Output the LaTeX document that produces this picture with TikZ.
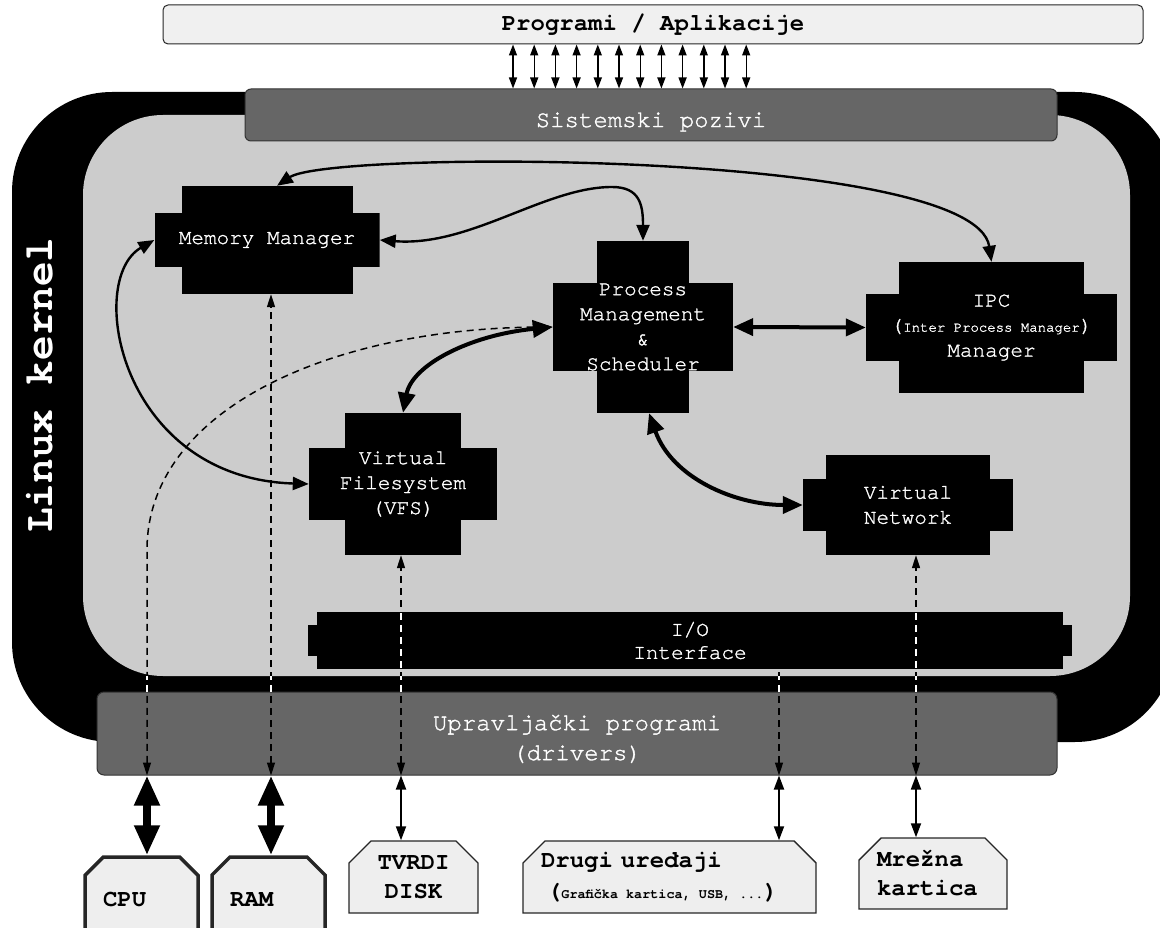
\documentclass[tikz,border=0pt]{standalone}
\usepackage{fontspec}
\setmainfont{TeX Gyre Cursor}
\newfontfamily\medfont[FakeBold=1.3]{TeX Gyre Cursor}
\usepackage{tikz}
\usetikzlibrary{arrows.meta, positioning, calc, shapes.misc}
\definecolor{kernelgray}{RGB}{204,204,204}
\definecolor{callgray}{RGB}{102,102,102}
\definecolor{devgray}{RGB}{238,238,238}
\definecolor{appgray}{RGB}{240,240,240}

\tikzset{
  kblock/.style 2 args={inner sep=0pt, fill=kernelgray, text=white, align=center,
    font=\medfont\fontsize{21}{25}\selectfont,
    path picture={
      \fill[black] ([xshift=#1]path picture bounding box.south west) rectangle ([xshift=-#1]path picture bounding box.north east);
      \fill[black] ([yshift=#2]path picture bounding box.south west) rectangle ([yshift=-#2]path picture bounding box.north east);}},
  dev/.style={chamfered rectangle, chamfered rectangle corners={north west,north east},
    chamfered rectangle xsep=11pt, chamfered rectangle ysep=11pt,
    draw=black!85, fill=devgray, line width=1.4pt, inner xsep=7pt, inner ysep=0pt,
    font=\fontsize{24}{29}\selectfont\bfseries},
  call/.style={<->, >={Triangle[length=11pt,width=8pt]}, line width=1.4pt},
  link/.style={<->, >={Triangle[length=16pt,width=13pt]}, line width=2.4pt},
  heavy/.style={<->, >={Triangle[length=20pt,width=17pt]}, line width=4pt},
  bus/.style={<->, >={Triangle[length=13pt,width=8pt]}, line width=1.5pt, dash pattern=on 7pt off 5pt},
  port/.style={<->, >={Triangle[length=14pt,width=10pt]}, line width=1.8pt},
  bigport/.style={<->, >={Triangle[length=30pt,width=24pt]}, line width=8pt}
}

\begin{document}
\begin{tikzpicture}[x=1pt, y=-1pt]
    \useasboundingbox (0,0) rectangle (1160,928);

    % Kernel body
    \fill[black, rounded corners=100pt] (12,92) rectangle (1175,742);
    \fill[kernelgray, rounded corners=80pt] (83,115) rectangle (1130,676);
    \node[rotate=90, text=white, font=\fontsize{41}{45}\selectfont\bfseries] (kern) at (40,385) {Linux kernel};

    % Applications and system calls
    \node[draw=black!85, line width=1pt, fill=appgray, rounded corners=5pt, minimum width=980pt, minimum height=39pt,
        font=\fontsize{24}{28}\selectfont\bfseries] (apps) at (653,24.5) {Programi / Aplikacije};
    \node[draw=black!80, line width=1pt, fill=callgray, rounded corners=6pt, minimum width=812pt, minimum height=52pt] (sys) at (651,115) {};
    \node[text=white, font=\medfont\fontsize{24}{28}\selectfont] (systext) at (651,122) {Sistemski pozivi};
    \foreach \i in {0,...,11}{
        \coordinate (t) at ([xshift={-140+21.2*\i}]apps.south);
        \draw[call] (t) -- (t |- sys.north);
    }

    % Drivers
    \node[draw=black!80, line width=1pt, fill=callgray, rounded corners=7pt, minimum width=960pt, minimum height=83pt] (drv) at (577,733.5) {};
    \node[text=white, align=center, font=\medfont\fontsize{24}{30}\selectfont] (drvtext) at (577,739) {Upravljački programi\\(drivers)};

    % Kernel subsystems
    \node[kblock={27pt}{27pt}, minimum width=225pt, minimum height=108pt] (mm) at (267,240) {Memory Manager};
    \node[kblock={44pt}{42pt}, minimum width=180pt, minimum height=172pt] (pm) at (643,327) {Process\\Management\\\&\\Scheduler};
    \node[kblock={33pt}{32pt}, minimum width=251pt, minimum height=131pt] (ipc) at (991.5,327.5)
        {IPC\\({\fontsize{14}{16}\selectfont Inter Process Manager})\\Manager};
    \node[kblock={36pt}{35pt}, minimum width=188pt, minimum height=142pt] (vfs) at (403,484) {Virtual\\Filesystem\\(VFS)};
    \node[kblock={23pt}{24pt}, minimum width=210pt, minimum height=100pt] (vn) at (908,505) {Virtual\\Network};
    \node[kblock={9pt}{13pt}, minimum width=764pt, minimum height=57pt, font=\medfont\fontsize{21}{23}\selectfont] (io) at (690,640.5) {I/O\\Interface};

    % Devices
    \node[dev, line width=3.5pt, minimum width=113pt, minimum height=85pt, text width=77pt, align=left] (cpu) at (141.5,899.5) {CPU};
    \node[dev, line width=3.5pt, minimum width=113pt, minimum height=85pt, text width=77pt, align=left] (ram) at (268.5,899.5) {RAM};
    \node[dev, minimum width=129pt, minimum height=72pt, align=center] (disk) at (413.5,877) {TVRDI\\DISK};
    \node[dev, minimum width=293pt, minimum height=72pt, text width=257pt, align=left] (other) at (669.5,877)
        {Drugi uređaji\\[2pt]\hspace*{6pt}({\fontsize{13.5}{16}\selectfont Grafička kartica, USB, ...})};
    \node[dev, minimum width=148pt, minimum height=71pt, text width=112pt, align=left] (nic) at (933,873.5) {Mrežna\\kartica};

    % Lanes through the drivers
    \coordinate (l1) at (147,0);
    \coordinate (l2) at (271,0);
    \coordinate (l3) at (401,0);
    \coordinate (l4) at (779,0);
    \coordinate (l5) at (916,0);

    % Links between subsystems
    \draw[link] ([xshift=10pt]mm.north) .. controls (330,150) and (975,150) .. (ipc.north);
    \draw[link] (mm.east) .. controls (470,247) and (545,187) .. (612,187) .. controls (640,187) and (643,205) .. (pm.north);
    \draw[link] (mm.west) .. controls (85,280) and (120,478) .. (vfs.west);
    \draw[heavy] (pm.west) .. controls (470,335) and (412,365) .. (vfs.north);
    \draw[heavy] (pm.east) -- (ipc.west);
    \draw[heavy] ([xshift=6pt]pm.south) .. controls (672,478) and (735,505) .. (vn.west);

    % Driver lanes
    \draw[bus] (l1 |- drv.south) -- (147,550) .. controls (147,410) and (330,328) .. (pm.west);
    \draw[bus] (l2 |- drv.south) -- (l2 |- mm.south);
    \draw[bus] (l3 |- drv.south) -- (l3 |- vfs.south);
    \draw[bus, <-] (l4 |- drv.south) -- (l4 |- io.south);
    \draw[bus] (l5 |- drv.south) -- (l5 |- vn.south);
    \begin{scope}
        \clip (0,676) rectangle (1160,692) (io.south west) rectangle (io.north east);
        \foreach \l in {l1,l2,l3,l5}
            \draw[bus, -, white] (\l |- drv.north) -- (\l |- io.north);
        \draw[bus, -, white] (l4 |- drv.north) -- (l4 |- io.south);
    \end{scope}

    % Device links
    \draw[bigport] (l1 |- drv.south) -- (l1 |- cpu.north);
    \draw[bigport] (l2 |- drv.south) -- (l2 |- ram.north);
    \draw[port] (l3 |- drv.south) -- (l3 |- disk.north);
    \draw[port] (l4 |- drv.south) -- (l4 |- other.north);
    \draw[port] (l5 |- drv.south) -- (l5 |- nic.north);
\end{tikzpicture}
\end{document}
